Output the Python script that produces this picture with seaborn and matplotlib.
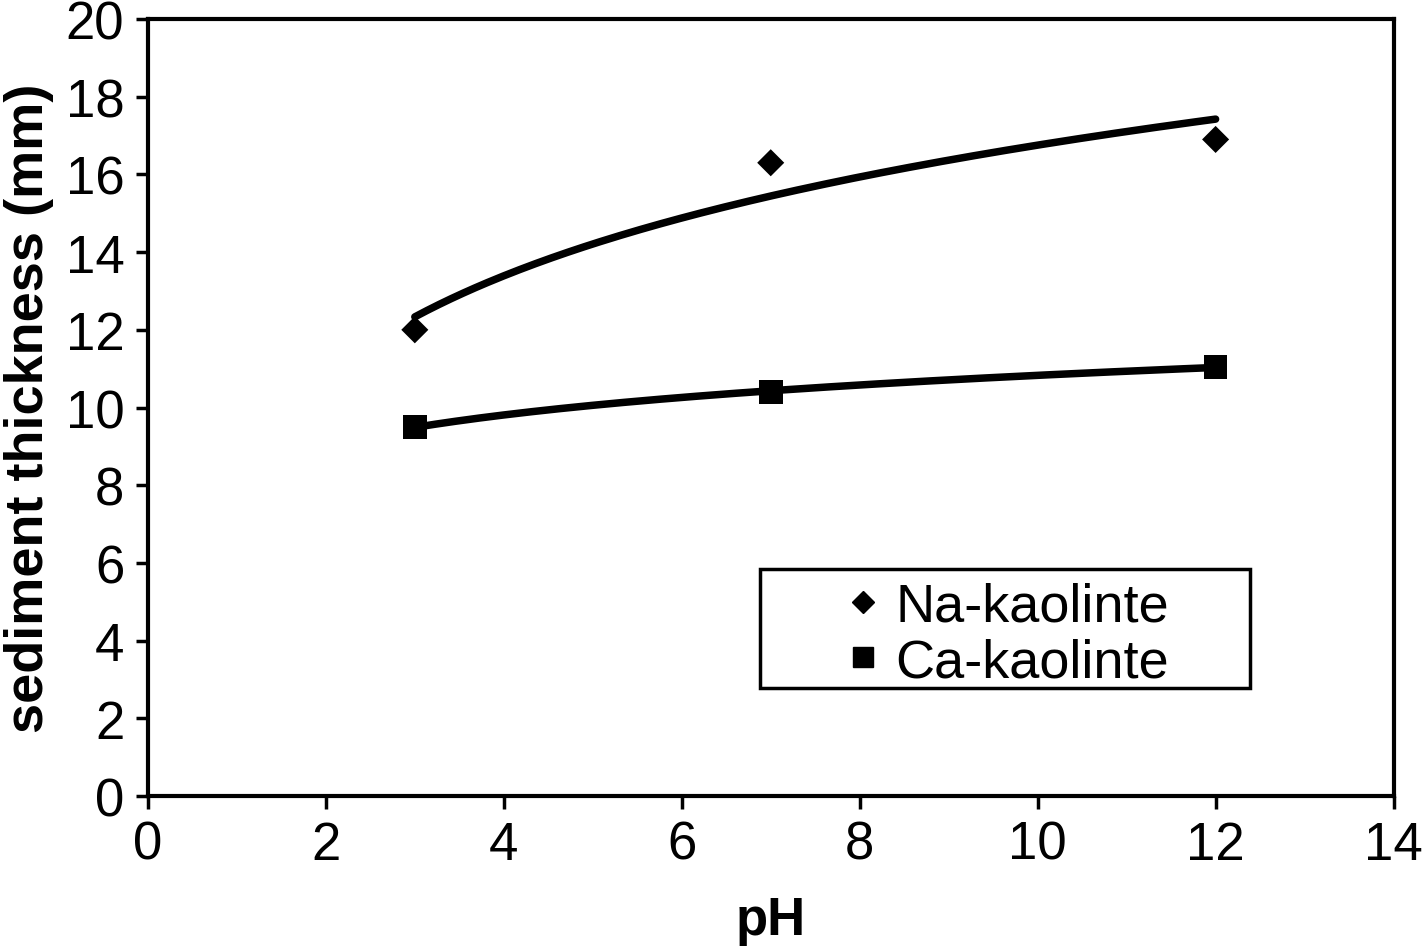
import numpy as np
import pandas as pd
import matplotlib
matplotlib.use("Agg")
import matplotlib.pyplot as plt
import seaborn as sns
from matplotlib.lines import Line2D
from matplotlib.patches import Rectangle

# datos
ph = [3, 7, 12]
na_thickness = [12.0, 16.3, 16.9]
ca_thickness = [9.5, 10.4, 11.05]
series_names = ["Na-kaolinte", "Ca-kaolinte"]


def log_trend(x, y):
    # linea de tendencia logaritmica (como en Excel)
    a, b = np.polyfit(np.log(x), y, 1)
    xs = np.linspace(min(x), max(x), 200)
    return xs, a * np.log(xs) + b


def main():
    sns.set_style("ticks")
    plt.rcParams["font.family"] = ["Liberation Sans", "DejaVu Sans"]
    plt.rcParams["text.color"] = "black"
    plt.rcParams["axes.labelcolor"] = "black"

    df = pd.DataFrame({
        "pH": ph * 2,
        "thickness": na_thickness + ca_thickness,
        "sample": [series_names[0]] * 3 + [series_names[1]] * 3,
    })

    fig = plt.figure(figsize=(14.22, 9.53), dpi=100)
    ax = fig.add_axes([0.104, 0.1637, 0.876, 0.8153])

    for vals, name in zip([na_thickness, ca_thickness], series_names):
        xs, ys = log_trend(ph, vals)
        sns.lineplot(x=xs, y=ys, ax=ax, color="black", linewidth=5.4,
                     solid_capstyle="round", legend=False)

    sns.scatterplot(data=df, x="pH", y="thickness", style="sample",
                    markers={series_names[0]: "D", series_names[1]: "s"},
                    hue="sample", palette={n: "black" for n in series_names},
                    ax=ax, legend=False, linewidth=0, zorder=3)
    # tamanos de marcador por serie
    ax.collections[-1].set_sizes([190] * 3 + [290] * 3)

    ax.set_xlim(0, 14)
    ax.set_ylim(0, 20)
    ax.set_xticks(range(0, 15, 2))
    ax.set_yticks(range(0, 21, 2))
    ax.tick_params(axis="both", labelsize=38, width=2.5, length=9,
                   direction="out", colors="black", pad=8)
    for sp in ax.spines.values():
        sp.set_linewidth(3)
        sp.set_color("black")

    ax.set_xlabel("pH", fontsize=38, fontweight="bold", labelpad=18)
    ax.set_ylabel("sediment thickness (mm)", fontsize=39, fontweight="bold",
                  labelpad=8)

    # caja de la leyenda
    ax.add_patch(Rectangle((0.491, 0.139), 0.394, 0.153,
                           transform=ax.transAxes, fill=False,
                           edgecolor="black", linewidth=2.5, zorder=4))
    handles = [
        Line2D([], [], linestyle="none", marker="D", color="black",
               markersize=11),
        Line2D([], [], linestyle="none", marker="s", color="black",
               markersize=15),
    ]
    ax.legend(handles, series_names, loc="center",
              bbox_to_anchor=(0.687, 0.208), fontsize=39, frameon=False,
              handletextpad=0.15, handlelength=0.9, borderpad=0,
              labelspacing=0.1)

    fig.savefig("out.png", dpi=100, facecolor="white")
    plt.close(fig)


if __name__ == "__main__":
    main()
